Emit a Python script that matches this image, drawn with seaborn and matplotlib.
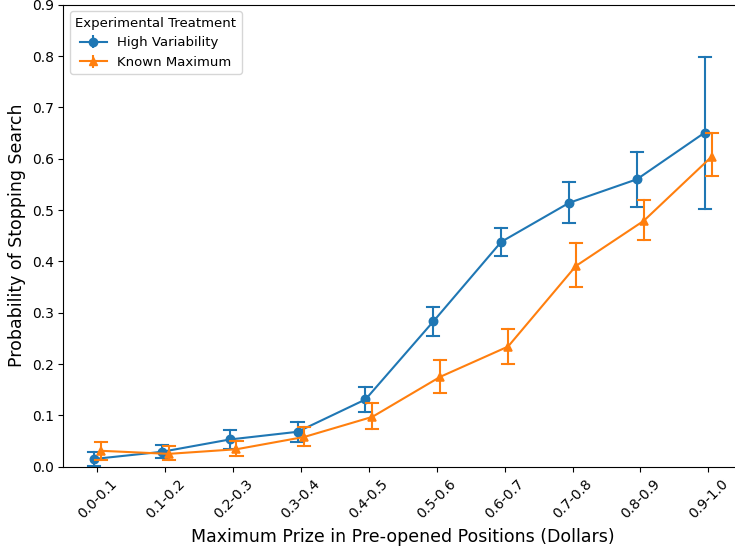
import matplotlib
matplotlib.use("Agg")
import matplotlib.pyplot as plt
import seaborn as sns
import pandas as pd

categories = ["0.0-0.1", "0.1-0.2", "0.2-0.3", "0.3-0.4", "0.4-0.5",
              "0.5-0.6", "0.6-0.7", "0.7-0.8", "0.8-0.9", "0.9-1.0"]
series_names = ["High Variability", "Known Maximum"]

hv_mean = [0.015, 0.029, 0.053, 0.068, 0.131, 0.283, 0.438, 0.514, 0.560, 0.651]
hv_low  = [0.001, 0.016, 0.035, 0.049, 0.107, 0.255, 0.410, 0.474, 0.505, 0.502]
hv_high = [0.028, 0.042, 0.072, 0.087, 0.156, 0.311, 0.465, 0.555, 0.614, 0.798]

km_mean = [0.031, 0.025, 0.034, 0.058, 0.097, 0.175, 0.234, 0.391, 0.479, 0.604]
km_low  = [0.013, 0.014, 0.021, 0.041, 0.073, 0.144, 0.201, 0.350, 0.441, 0.566]
km_high = [0.048, 0.040, 0.050, 0.077, 0.124, 0.208, 0.268, 0.436, 0.519, 0.651]

rows = []
for name, mean, low, high in [(series_names[0], hv_mean, hv_low, hv_high),
                              (series_names[1], km_mean, km_low, km_high)]:
    for c, m, lo, hi in zip(categories, mean, low, high):
        for v in (lo, m, hi):
            rows.append({"bin": c, "prob": v, "treatment": name})
df = pd.DataFrame(rows)

colors = ["#1f77b4", "#ff7f0e"]

fig = plt.figure(figsize=(7.35, 5.48), dpi=100)
ax = fig.add_axes([63.4 / 735, (548 - 466.7) / 548, (742.2 - 63.4) / 735, (466.7 - 4.7) / 548])

sns.pointplot(data=df, x="bin", y="prob", hue="treatment", order=categories,
              hue_order=series_names, palette=colors,
              estimator="median", errorbar=("pi", 100),
              dodge=0.1, markers=["o", "^"], linestyles=["-", "-"],
              capsize=0.18, markersize=6, linewidth=1.5,
              err_kws={"linewidth": 1.5}, ax=ax, legend=False)

ax.set_ylim(0, 0.9)
ax.set_xlim(-0.5, len(categories) - 0.5)
ax.set_xlabel("Maximum Prize in Pre-opened Positions (Dollars)", fontsize=12.5, labelpad=5)
ax.set_ylabel("Probability of Stopping Search", fontsize=12.5)
ax.tick_params(axis="x", labelrotation=45)
ax.tick_params(labelsize=10)

handles = []
for col, mk in zip(colors, ["o", "^"]):
    h = ax.errorbar([], [], yerr=[], fmt="-" + mk, color=col, capsize=4,
                    markersize=6, linewidth=1.5)
    handles.append(h)
ax.legend(handles, series_names, title="Experimental Treatment", loc="upper left",
          fontsize=9.5, title_fontsize=9.5)

fig.savefig("out.png", dpi=100)
